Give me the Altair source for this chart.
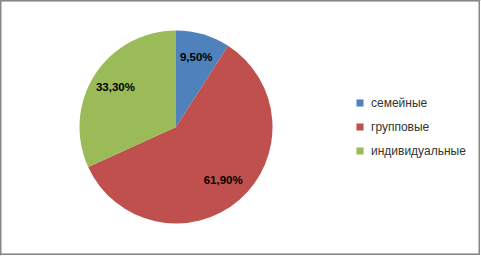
import altair as alt
import pandas as pd

# Share of tour types, percent
categories = ["семейные", "групповые", "индивидуальные"]
shares = [9.5, 61.9, 33.3]
colors = ["#4F81BD", "#C0504D", "#9BBB59"]

df = pd.DataFrame({
    "type": categories,
    "share": shares,
    "order": list(range(len(categories))),
    "label": [f"{v:.2f}".replace(".", ",") + "%" for v in shares],
})

FONT = "Liberation Sans"
CX, CY = 176, 127

base = alt.Chart(df).encode(
    theta=alt.Theta("share:Q", stack=True),
    order=alt.Order("order:Q"),
    x=alt.value(CX),
    y=alt.value(CY),
)

pie = base.mark_arc(outerRadius=96.5).encode(
    color=alt.Color(
        "type:N",
        scale=alt.Scale(domain=categories, range=colors),
        sort=categories,
        legend=alt.Legend(
            title=None,
            orient="none",
            legendX=354,
            legendY=97,
            symbolType="square",
            symbolSize=50,
            symbolStrokeWidth=0,
            rowPadding=12,
            labelFont=FONT,
            labelFontSize=12,
            labelColor="#333333",
            labelOffset=5,
        ),
    )
)

labels = base.mark_text(
    radius=72, font=FONT, fontSize=11.5, fontWeight="bold", color="#000000"
).encode(text="label:N")

frame = alt.Chart(df).mark_rect(
    fill=None, stroke="#868686", strokeWidth=1.2
).encode(
    x=alt.value(0.6), x2=alt.value(479.4), y=alt.value(0.6), y2=alt.value(254.4)
)

chart = (
    alt.layer(pie, labels, frame)
    .properties(width=481, height=256, padding=0, autosize=alt.AutoSizeParams(type="none"))
    .configure_view(stroke=None)
    .configure(background="white")
)

chart.save("out.html", embed_options={"renderer": "svg", "actions": False})
